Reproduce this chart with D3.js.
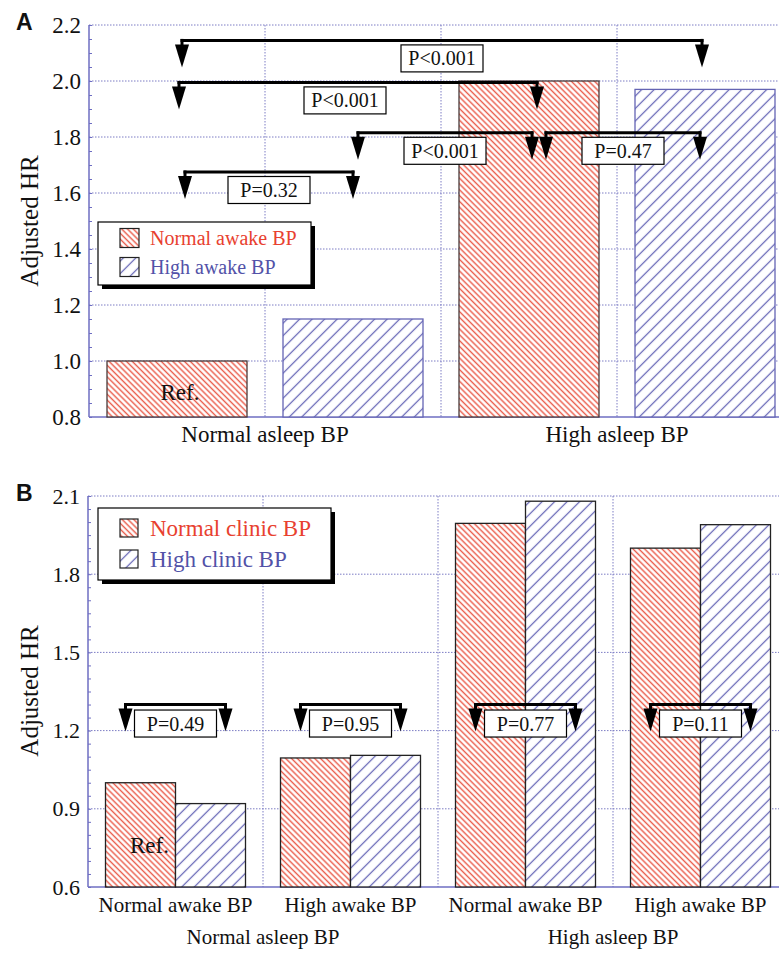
<!DOCTYPE html>
<html lang="en">
<head>
<meta charset="utf-8">
<script src="https://d3js.org/d3.v7.min.js"></script>
<style>
  body { margin: 0; background: #fff; }
  text { font-family: "Liberation Serif", "Times New Roman", serif; }
</style>
</head>
<body>
<div id="chart"></div>
<script>
// ---- panel A data ----
const asleepA = ["Normal asleep BP", "High asleep BP"];
const awakeA = ["Normal awake BP", "High awake BP"];
const hrA = [[1.00, 1.15], [2.00, 1.97]];          // [asleep][awake]
const ticksA = [0.8, 1.0, 1.2, 1.4, 1.6, 1.8, 2.0, 2.2];
// comparisons: [asleepFrom, awakeFrom, asleepTo, awakeTo, bracket level, label]
const compA = [
  [0, 0, 1, 1, 2.145, "P<0.001"],
  [0, 0, 1, 0, 1.995, "P<0.001"],
  [0, 1, 1, 0, 1.815, "P<0.001"],
  [1, 0, 1, 1, 1.815, "P=0.47"],
  [0, 0, 0, 1, 1.675, "P=0.32"]
];

// ---- panel B data ----
const asleepB = ["Normal asleep BP", "High asleep BP"];
const awakeB = ["Normal awake BP", "High awake BP"];
const clinicB = ["Normal clinic BP", "High clinic BP"];
const hrB = [[[1.00, 0.92], [1.095, 1.105]], [[1.995, 2.08], [1.90, 1.99]]]; // [asleep][awake][clinic]
const ticksB = [0.6, 0.9, 1.2, 1.5, 1.8, 2.1];
const pB = [["P=0.49", "P=0.95"], ["P=0.77", "P=0.11"]];
const levelB = 1.30;

const RED = "#e8412f", BLUE = "#5252a8";
const AXIS = "#6e6ec2", GRID = "#7c7cc4";

const svg = d3.select("#chart").append("svg")
  .attr("width", 779).attr("height", 954)
  .style("background", "#fff");

const defs = svg.append("defs");
function hatch(id, spacing, color, angle, sw) {
  const p = defs.append("pattern")
    .attr("id", id)
    .attr("patternUnits", "userSpaceOnUse")
    .attr("width", spacing).attr("height", spacing)
    .attr("patternTransform", `rotate(${angle})`);
  p.append("rect").attr("width", spacing).attr("height", spacing).attr("fill", "#fff");
  p.append("line")
    .attr("x1", spacing / 2).attr("x2", spacing / 2)
    .attr("y1", -1).attr("y2", spacing + 1)
    .attr("stroke", color).attr("stroke-width", sw);
}
hatch("hRed", 5.8 / Math.SQRT2, "#ea5a48", -45, 1.4);
hatch("hBlue", 12.5 / Math.SQRT2, "#6464b4", 45, 1.25);

// common frame: grid, axis line, minor ticks, tick labels
function frame(g, y, ticks, x0, x1, vlines, minorN, fs) {
  const [yb, yt] = y.range();
  g.append("g").selectAll("line").data(ticks.slice(1)).join("line")
    .attr("x1", x0).attr("x2", x1)
    .attr("y1", d => y(d)).attr("y2", d => y(d))
    .attr("stroke", GRID).attr("stroke-width", 1).attr("stroke-dasharray", "1.5,1.5");
  g.append("g").selectAll("line").data(vlines).join("line")
    .attr("x1", d => d).attr("x2", d => d)
    .attr("y1", yt).attr("y2", yb)
    .attr("stroke", GRID).attr("stroke-width", 1).attr("stroke-dasharray", "1.5,1.5");

  // minor ticks pointing inward
  const minor = g.append("g").attr("transform", `translate(${x0},0)`)
    .call(d3.axisRight(y).tickValues(y.ticks(minorN)).tickSize(3).tickFormat(""));
  minor.select(".domain").remove();
  minor.selectAll("line").attr("stroke", AXIS);

  const lab = g.append("g").attr("transform", `translate(${x0},0)`)
    .call(d3.axisLeft(y).tickValues(ticks).tickSize(0).tickPadding(8).tickFormat(d3.format(".1f")));
  lab.select(".domain").remove();
  lab.selectAll("text").attr("font-size", fs).attr("fill", "#111")
    .style("font-family", "'Liberation Serif', serif");

  g.append("line").attr("x1", x0).attr("x2", x0).attr("y1", yt).attr("y2", yb)
    .attr("stroke", AXIS).attr("stroke-width", 1.5);
  g.append("line").attr("x1", x0).attr("x2", x1).attr("y1", yb).attr("y2", yb)
    .attr("stroke", AXIS).attr("stroke-width", 1.5);
}

function arrowDown(g, x, y0) {
  g.append("line").attr("x1", x).attr("x2", x).attr("y1", y0 - 1.5).attr("y2", y0 + 6)
    .attr("stroke", "#000").attr("stroke-width", 3);
  g.append("path")
    .attr("d", `M${x - 7},${y0 + 4}L${x + 7},${y0 + 4}L${x},${y0 + 27}Z`)
    .attr("fill", "#000");
}

function pBox(g, cx, cy, label, w) {
  g.append("rect").attr("x", cx - w / 2).attr("y", cy - 13.5).attr("width", w).attr("height", 27)
    .attr("fill", "#fff").attr("stroke", "#000").attr("stroke-width", 1.2);
  g.append("text").attr("x", cx).attr("y", cy + 7).attr("text-anchor", "middle")
    .attr("font-size", 20).attr("fill", "#111").text(label);
}

function legend(g, x, y, w, h, items, fontSize, sw, rowY) {
  g.append("rect").attr("x", x + 4).attr("y", y + 4).attr("width", w).attr("height", h).attr("fill", "#000");
  g.append("rect").attr("x", x).attr("y", y).attr("width", w).attr("height", h)
    .attr("fill", "#fff").attr("stroke", "#000").attr("stroke-width", 1.2);
  items.forEach((it, i) => {
    const yy = y + rowY[i];
    g.append("rect").attr("x", x + 22).attr("y", yy - sw / 2).attr("width", sw).attr("height", sw)
      .attr("fill", it.fill).attr("stroke", "#222").attr("stroke-width", 1.2);
    g.append("text").attr("x", x + 52).attr("y", yy + fontSize * 0.33)
      .attr("font-size", fontSize).attr("fill", it.color).text(it.label);
  });
}

function panelLetter(letter, x, y) {
  svg.append("text").attr("x", x).attr("y", y).text(letter)
    .style("font-family", "'Liberation Sans', Arial, sans-serif")
    .attr("font-weight", "bold").attr("font-size", 23).attr("fill", "#111");
}

function yTitle(cy) {
  svg.append("text").attr("transform", `translate(38,${cy}) rotate(-90)`)
    .attr("text-anchor", "middle").attr("font-size", 25).attr("fill", "#111")
    .text("Adjusted HR");
}

// ================= Panel A =================
{
  const g = svg.append("g");
  const left = 89, right = 793;
  const y = d3.scaleLinear().domain([0.8, 2.2]).range([417, 25]);
  const x0 = d3.scaleBand().domain(asleepA).range([left, right]);
  const x1 = d3.scaleBand().domain(awakeA).range([0, x0.bandwidth()])
    .paddingInner(36 / 176).paddingOuter(18 / 176);
  const step = x1.step();
  frame(g, y, ticksA, left, right, [left + step, left + 2 * step, left + 3 * step], 28, 23);

  const bars = [];
  asleepA.forEach((a, i) => awakeA.forEach((w, j) => bars.push({ a, w, i, j, v: hrA[i][j] })));
  g.append("g").selectAll("rect").data(bars).join("rect")
    .attr("x", d => x0(d.a) + x1(d.w))
    .attr("y", d => y(d.v))
    .attr("width", x1.bandwidth())
    .attr("height", d => y(0.8) - y(d.v))
    .attr("fill", d => d.j === 0 ? "url(#hRed)" : "url(#hBlue)")
    .attr("stroke", d => d.j === 0 ? "#4a3a3a" : "#6464b4")
    .attr("stroke-width", 1.3);

  const cx = (i, j) => x0(asleepA[i]) + x1(awakeA[j]) + x1.bandwidth() / 2;
  g.append("text").attr("x", cx(0, 0) + 3).attr("y", y(0.8) - 17).attr("text-anchor", "middle")
    .attr("font-size", 23).attr("fill", "#111").text("Ref.");

  // small hand nudges of the arrow ends and label boxes
  const nudgeA = [[5, -3, 0], [2, 8, -13], [5, 3, 0], [17, -5, 0], [8, 0, 0]];
  compA.forEach((c, k) => {
    const [i0, j0, i1, j1, lvl, lab] = c;
    const xa = cx(i0, j0) + nudgeA[k][0], xb = cx(i1, j1) + nudgeA[k][1];
    const yl = y(lvl);
    g.append("line").attr("x1", xa - 1.5).attr("x2", xb + 1.5).attr("y1", yl).attr("y2", yl)
      .attr("stroke", "#000").attr("stroke-width", 3);
    arrowDown(g, xa, yl);
    arrowDown(g, xb, yl);
    pBox(g, (xa + xb) / 2 + nudgeA[k][2], yl + 18, lab, 82);
  });

  legend(g, 98, 222, 213, 63,
    [{ label: awakeA[0], color: RED, fill: "url(#hRed)" }, { label: awakeA[1], color: BLUE, fill: "url(#hBlue)" }],
    20, 19, [16, 45]);

  const xa = g.append("g").attr("transform", `translate(0,${y(0.8)})`)
    .call(d3.axisBottom(x0).tickSize(0).tickPadding(9));
  xa.select(".domain").remove();
  xa.selectAll("text").attr("font-size", 23).attr("fill", "#111")
    .style("font-family", "'Liberation Serif', serif");

  panelLetter("A", 16, 30);
  yTitle(221);
}

// ================= Panel B =================
{
  const g = svg.append("g");
  const left = 88, right = 788;
  const y = d3.scaleLinear().domain([0.6, 2.1]).range([887, 496]);
  const x0 = d3.scaleBand().domain(asleepB).range([left, right]);
  const x1 = d3.scaleBand().domain(awakeB).range([0, x0.bandwidth()]);
  const x2 = d3.scaleBand().domain(clinicB).range([0, x1.bandwidth()]).paddingOuter(0.25);
  const step = x1.bandwidth();
  frame(g, y, ticksB, left, right, [left + step, left + 2 * step, left + 3 * step], 30, 22);

  const bars = [];
  asleepB.forEach((a, i) => awakeB.forEach((w, j) => clinicB.forEach((c, k) =>
    bars.push({ a, w, c, i, j, k, v: hrB[i][j][k] }))));
  g.append("g").selectAll("rect").data(bars).join("rect")
    .attr("x", d => x0(d.a) + x1(d.w) + x2(d.c))
    .attr("y", d => y(d.v))
    .attr("width", x2.bandwidth())
    .attr("height", d => y(0.6) - y(d.v))
    .attr("fill", d => d.k === 0 ? "url(#hRed)" : "url(#hBlue)")
    .attr("stroke", "#222").attr("stroke-width", 1.3);

  const bx = (i, j, k) => x0(asleepB[i]) + x1(awakeB[j]) + x2(clinicB[k]) + x2.bandwidth() / 2;
  g.append("text").attr("x", bx(0, 0, 0) + 9).attr("y", y(0.6) - 34).attr("text-anchor", "middle")
    .attr("font-size", 23).attr("fill", "#111").text("Ref.");

  asleepB.forEach((a, i) => awakeB.forEach((w, j) => {
    const xa = bx(i, j, 0) - 15, xb = bx(i, j, 1) + 15;
    const yl = y(levelB);
    g.append("line").attr("x1", xa - 1.5).attr("x2", xb + 1.5).attr("y1", yl).attr("y2", yl)
      .attr("stroke", "#000").attr("stroke-width", 3);
    arrowDown(g, xa, yl);
    arrowDown(g, xb, yl);
    pBox(g, (xa + xb) / 2, yl + 19, pB[i][j], 82);
  }));

  legend(g, 98, 508, 233, 72,
    [{ label: clinicB[0], color: RED, fill: "url(#hRed)" }, { label: clinicB[1], color: BLUE, fill: "url(#hBlue)" }],
    23, 18, [20, 51]);

  // awake labels under each sub-group, asleep labels beneath
  const subKeys = [];
  asleepB.forEach((a, i) => awakeB.forEach((w, j) => subKeys.push(i + "|" + w)));
  const xs = d3.scaleBand().domain(subKeys).range([left, right]);
  const xa = g.append("g").attr("transform", `translate(0,${y(0.6)})`)
    .call(d3.axisBottom(xs).tickSize(0).tickPadding(10).tickFormat(d => d.split("|")[1]));
  xa.select(".domain").remove();
  xa.selectAll("text").attr("font-size", 21).attr("fill", "#111")
    .style("font-family", "'Liberation Serif', serif");
  const xg = g.append("g").attr("transform", `translate(0,${y(0.6) + 32})`)
    .call(d3.axisBottom(x0).tickSize(0).tickPadding(10));
  xg.select(".domain").remove();
  xg.selectAll("text").attr("font-size", 21).attr("fill", "#111")
    .style("font-family", "'Liberation Serif', serif");

  panelLetter("B", 16, 501);
  yTitle(691);
}
</script>
</body>
</html>
